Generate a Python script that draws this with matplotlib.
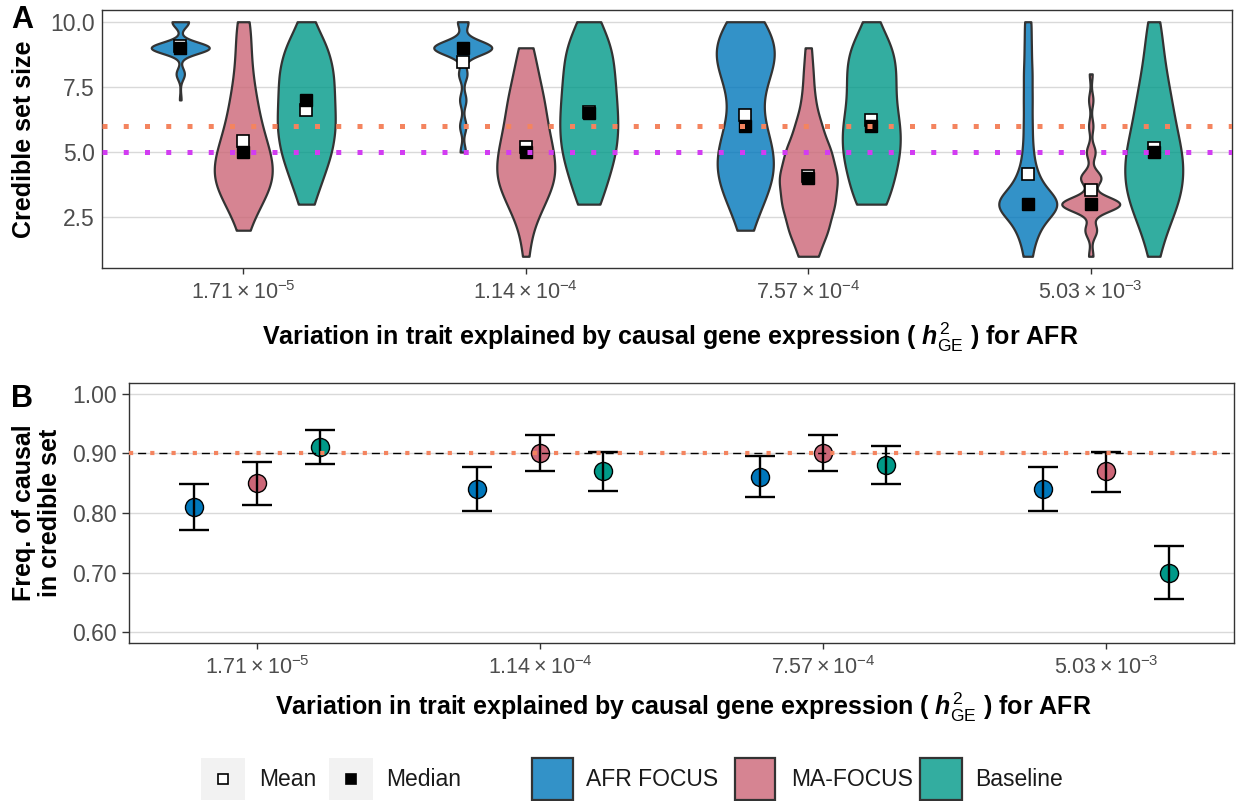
import numpy as np
import matplotlib.pyplot as plt
import matplotlib.colors as mcolors
from matplotlib.patches import Rectangle

plt.rcParams['font.family'] = ['Liberation Sans', 'DejaVu Sans']
plt.rcParams['mathtext.fontset'] = 'custom'
plt.rcParams['mathtext.rm'] = 'Liberation Sans'
plt.rcParams['mathtext.it'] = 'Liberation Sans:italic:bold'
plt.rcParams['mathtext.bf'] = 'Liberation Sans:bold'
plt.rcParams['lines.scale_dashes'] = False

# ---- data ----
h2_labels = [r'$1.71\times10^{-5}$', r'$1.14\times10^{-4}$',
             r'$7.57\times10^{-4}$', r'$5.03\times10^{-3}$']
methods = ['AFR FOCUS', 'MA-FOCUS', 'Baseline']
method_colors = ['#0077BB', '#CC6677', '#009988']

# credible set sizes 1..10 -> number of simulations, one row per h2 level
set_sizes = np.arange(1, 11)
afr_counts = [
    [0, 0, 0, 0, 0, 0, 2, 10, 70, 20],
    [0, 0, 0, 0, 5, 6, 6, 8, 55, 10],
    [0, 3, 8, 14, 14, 9, 6, 12, 17, 9],
    [5, 12, 40, 12, 6, 5, 5, 5, 4, 4],
]
ma_counts = [
    [0, 3, 12, 22, 18, 12, 9, 6, 5, 5],
    [2, 4, 12, 20, 18, 14, 12, 8, 5, 0],
    [6, 12, 16, 18, 14, 8, 4, 3, 2, 0],
    [3, 8, 40, 14, 6, 3, 3, 2, 0, 0],
]
base_counts = [
    [0, 0, 4, 9, 14, 16, 15, 15, 12, 4],
    [0, 0, 6, 10, 14, 15, 14, 13, 12, 6],
    [0, 0, 8, 11, 14, 14, 11, 12, 11, 3],
    [3, 7, 14, 17, 16, 12, 10, 7, 5, 4],
]

# frequency of causal gene in credible set (+ interval)
afr_freq = [0.81, 0.84, 0.86, 0.84]
afr_lo = [0.771, 0.804, 0.826, 0.803]
afr_hi = [0.849, 0.877, 0.895, 0.877]
ma_freq = [0.85, 0.90, 0.90, 0.87]
ma_lo = [0.814, 0.870, 0.870, 0.836]
ma_hi = [0.885, 0.930, 0.930, 0.903]
base_freq = [0.91, 0.87, 0.88, 0.70]
base_lo = [0.882, 0.837, 0.848, 0.655]
base_hi = [0.940, 0.903, 0.912, 0.745]

W, H = 1238, 801
ORANGE = '#F4845F'
PURPLE = '#D23CF2'
EDGE = '#333333'
TICKC = '#4D4D4D'
DODGE = 0.223
HALF_W = 0.1025


def violin_profile(counts):
    # gaussian kde with R's nrd0 bandwidth, trimmed to data range
    samples = np.repeat(set_sizes, counts).astype(float)
    n = samples.size
    sd = samples.std(ddof=1)
    q1, q3 = np.percentile(samples, [25, 75])
    lo = min(sd, (q3 - q1) / 1.34)
    if lo == 0:
        lo = sd
    bw = 0.9 * lo * n ** -0.2
    grid = np.linspace(samples.min(), samples.max(), 512)
    dens = np.exp(-0.5 * ((grid[:, None] - samples[None, :]) / bw) ** 2).sum(axis=1)
    return grid, dens / dens.max(), samples


fig = plt.figure(figsize=(W / 100, H / 100), dpi=100)


def px_axes(l, t, r, b):
    return fig.add_axes([l / W, 1 - b / H, (r - l) / W, (b - t) / H])


def style_axes(ax):
    for s in ax.spines.values():
        s.set_color(EDGE)
        s.set_linewidth(1.0)
    ax.tick_params(color=EDGE, width=1.0, labelcolor=TICKC)
    ax.tick_params(axis='x', labelsize=15.5, pad=5, length=4.5)
    ax.yaxis.grid(True, color='#D9D9D9', lw=1.0)
    ax.set_axisbelow(True)


# ---- panel A: violins ----
axA = px_axes(102, 10, 1232, 268)
all_counts = [afr_counts, ma_counts, base_counts]
for j, (counts_m, col) in enumerate(zip(all_counts, method_colors)):
    for i, counts in enumerate(counts_m):
        pos = i + 1 + (j - 1) * DODGE
        grid, prof, samples = violin_profile(counts)
        w = prof * HALF_W
        axA.fill_betweenx(grid, pos - w, pos + w,
                          facecolor=mcolors.to_rgba(col, 0.8),
                          edgecolor=EDGE, lw=1.6, zorder=2)
        axA.plot(pos, samples.mean(), 's', mfc='white', mec='black',
                 ms=9, mew=1.2, zorder=4)
        axA.plot(pos, np.median(samples), 's', color='black', ms=9, zorder=5)

axA.axhline(6, color=ORANGE, lw=3.6, linestyle=(0, (3.6, 11.7)),
            dash_capstyle='butt', zorder=6)
axA.axhline(5, color=PURPLE, lw=3.6, linestyle=(0, (3.6, 11.7)),
            dash_capstyle='butt', zorder=6)
axA.set_xlim(0.5, 4.5)
axA.set_ylim(0.55, 10.45)
axA.set_yticks([2.5, 5.0, 7.5, 10.0])
axA.set_yticklabels(['2.5', '5.0', '7.5', '10.0'])
axA.set_xticks([1, 2, 3, 4])
axA.set_xticklabels(h2_labels)
style_axes(axA)
axA.tick_params(axis='y', labelsize=16.5, length=0, pad=5)

# ---- panel B: frequency points ----
axB = px_axes(129, 383, 1234, 643)
point_sets = [(afr_freq, afr_lo, afr_hi), (ma_freq, ma_lo, ma_hi),
              (base_freq, base_lo, base_hi)]
for j, ((f, lo, hi), col) in enumerate(zip(point_sets, method_colors)):
    x = np.arange(1, 5) + (j - 1) * DODGE
    f, lo, hi = np.array(f), np.array(lo), np.array(hi)
    axB.plot(x, f, 'o', ms=13, mfc=col, mec='black', mew=1.0, zorder=3)
    axB.errorbar(x, f, yerr=[f - lo, hi - f], fmt='none', ecolor='black',
                 elinewidth=1.7, capsize=10.8, capthick=1.7, zorder=4)

axB.axhline(0.9, color='black', lw=1.0, linestyle=(9.1, (5.8, 9.5)), zorder=5)
axB.axhline(0.9, color=ORANGE, lw=3.0, linestyle=(0, (3.0, 12.3)),
            dash_capstyle='butt', zorder=6)
axB.set_xlim(0.548, 4.452)
axB.set_ylim(0.582, 1.018)
axB.set_yticks([0.6, 0.7, 0.8, 0.9, 1.0])
axB.set_yticklabels(['0.60', '0.70', '0.80', '0.90', '1.00'])
axB.set_xticks([1, 2, 3, 4])
axB.set_xticklabels(h2_labels)
style_axes(axB)
axB.tick_params(axis='y', labelsize=16.5, length=5, pad=4)

# ---- titles ----
xtitle = (r'Variation in trait explained by causal gene expression '
          r'( $h^{2}_{\mathrm{GE}}$ ) for AFR')
fig.text(670 / W, 1 - 337 / H, xtitle, ha='center', va='center',
         fontsize=18, fontweight='bold')
fig.text(683 / W, 1 - 707 / H, xtitle, ha='center', va='center',
         fontsize=18, fontweight='bold')
fig.text(24 / W, 1 - 139 / H, 'Credible set size', rotation=90,
         ha='center', va='center', fontsize=18, fontweight='bold')
fig.text(37 / W, 1 - 513 / H, 'Freq. of causal\nin credible set', rotation=90,
         ha='center', va='center', fontsize=18, fontweight='bold',
         linespacing=1.08)
fig.text(11 / W, 1 - 20 / H, 'A', ha='left', va='center', fontsize=22,
         fontweight='bold')
fig.text(11 / W, 1 - 399 / H, 'B', ha='left', va='center', fontsize=22,
         fontweight='bold')

# ---- legends (pixel layout) ----
lg = fig.add_axes([0, 0, 1, 1], zorder=-1)
lg.set_xlim(0, W)
lg.set_ylim(H, 0)
lg.axis('off')
ky0, ky1 = 758, 800
kc = (ky0 + ky1) / 2
for x0, x1, face, label, tx in [(201, 245, 'white', 'Mean', 259),
                                (329, 373, 'black', 'Median', 386)]:
    lg.add_patch(Rectangle((x0, ky0), x1 - x0, ky1 - ky0, color='#F2F2F2', lw=0))
    lg.plot((x0 + x1) / 2, kc, 's', mfc=face, mec='black', ms=7.5, mew=1.2)
    lg.text(tx, kc, label, va='center', ha='left', fontsize=16.5, color='#1A1A1A')
for (x0, x1, tx), col, label in zip([(532, 573, 586), (735, 775, 791), (920, 962, 975)],
                                    method_colors, methods):
    lg.add_patch(Rectangle((x0, ky0), x1 - x0, ky1 - ky0,
                           facecolor=mcolors.to_rgba(col, 0.8), edgecolor=EDGE, lw=1.6))
    lg.text(tx, kc, label, va='center', ha='left', fontsize=16.5, color='#1A1A1A')

fig.savefig('out.png', dpi=100)
